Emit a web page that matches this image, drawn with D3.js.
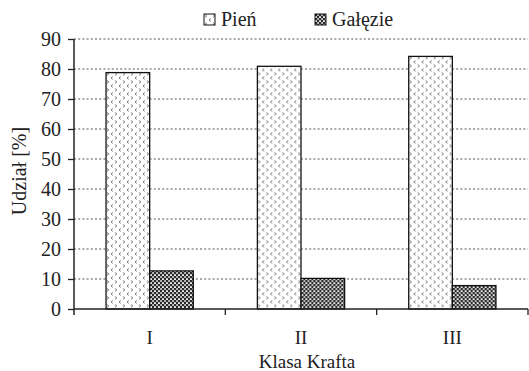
<!DOCTYPE html>
<html>
<head>
<meta charset="utf-8">
<script src="https://cdn.jsdelivr.net/npm/d3@7/dist/d3.min.js"></script>
<style>
  html, body { margin: 0; padding: 0; background: #fff; }
  svg { display: block; }
  text { font-family: "Liberation Serif", "DejaVu Serif", serif; fill: #222; }
</style>
</head>
<body>
<svg id="chart" width="529" height="371"></svg>
<script>
// Udział pnia i gałęzi w biomasie wg klas Krafta
const categories = ["I", "II", "III"];
const seriesNames = ["Pień", "Gałęzie"];
const pien = [78.8, 80.9, 84.2];
const galezie = [12.7, 10.2, 7.8];
const yTicks = [0, 10, 20, 30, 40, 50, 60, 70, 80, 90];

const seriesValues = [pien, galezie];
const svg = d3.select("#chart");
const FS = 20;

// Wypełnienia wzorami
const defs = svg.append("defs");
const pA = defs.append("pattern")
  .attr("id", "patPien").attr("patternUnits", "userSpaceOnUse")
  .attr("width", 8).attr("height", 8);
pA.append("rect").attr("width", 8).attr("height", 8).attr("fill", "#fff");
pA.append("path").attr("d", "M1,0.5 L2.8,1.9 L1,3.3").attr("fill", "none").attr("stroke", "#777").attr("stroke-width", 1);
pA.append("path").attr("d", "M6.8,4.5 L5,5.9 L6.8,7.3").attr("fill", "none").attr("stroke", "#777").attr("stroke-width", 1);

const pB = defs.append("pattern")
  .attr("id", "patGal").attr("patternUnits", "userSpaceOnUse")
  .attr("width", 4).attr("height", 4);
pB.append("rect").attr("width", 4).attr("height", 4).attr("fill", "#e8e8e8");
pB.append("rect").attr("x", 0).attr("y", 0).attr("width", 2.2).attr("height", 2.2).attr("fill", "#2a2a2a");
pB.append("rect").attr("x", 2).attr("y", 2).attr("width", 2.2).attr("height", 2.2).attr("fill", "#2a2a2a");
pB.append("rect").attr("x", 2.4).attr("y", 0.4).attr("width", 1.2).attr("height", 1.2).attr("fill", "#777");
const fills = ["url(#patPien)", "url(#patGal)"];

// Skale
const x = d3.scaleBand().domain(categories).range([74, 528]).paddingInner(0).paddingOuter(0);
const xs = d3.scaleBand().domain(seriesNames).range([0, x.bandwidth()])
  .paddingInner(0).paddingOuter(0.735);
const y = d3.scaleLinear().domain([0, 90]).range([309, 39]);

// Linie siatki
svg.append("g").selectAll("line")
  .data(yTicks.filter(d => d > 0))
  .join("line")
  .attr("x1", 74).attr("x2", 528)
  .attr("y1", d => y(d)).attr("y2", d => y(d))
  .attr("stroke", "#555").attr("stroke-width", 1.2)
  .attr("stroke-dasharray", "2,2.2");

// Słupki
const groups = svg.append("g").selectAll("g")
  .data(categories)
  .join("g")
  .attr("transform", d => `translate(${x(d)},0)`);
groups.selectAll("rect")
  .data((c, i) => seriesNames.map((s, k) => ({ s, k, v: seriesValues[k][i] })))
  .join("rect")
  .attr("x", d => xs(d.s))
  .attr("y", d => y(d.v))
  .attr("width", xs.bandwidth())
  .attr("height", d => y(0) - y(d.v))
  .attr("fill", d => fills[d.k])
  .attr("stroke", "#111").attr("stroke-width", 1.3);

// Oś Y
const yAxis = d3.axisLeft(y).tickValues(yTicks).tickSize(6).tickPadding(7);
const gy = svg.append("g").attr("transform", "translate(74,0)").call(yAxis);
gy.select(".domain").attr("stroke", "#222").attr("stroke-width", 1.5).attr("d", "M0,39V315");
gy.selectAll(".tick line").attr("stroke", "#222").attr("stroke-width", 1.3);
gy.selectAll(".tick text").attr("font-size", FS).attr("font-family", "Liberation Serif, serif").attr("fill", "#222");

// Oś X
const gx = svg.append("g").attr("transform", "translate(0,309)");
gx.append("line").attr("x1", 74).attr("x2", 528).attr("y1", 0).attr("y2", 0)
  .attr("stroke", "#222").attr("stroke-width", 1.5);
const bounds = categories.map(c => x(c)).concat([x(categories[categories.length - 1]) + x.bandwidth()]);
gx.selectAll("line.tk").data(bounds.slice(1)).join("line").attr("class", "tk")
  .attr("x1", d => d).attr("x2", d => d).attr("y1", 0).attr("y2", 6)
  .attr("stroke", "#222").attr("stroke-width", 1.3);
gx.selectAll("text").data(categories).join("text")
  .attr("x", d => x(d) + x.bandwidth() / 2).attr("y", 35)
  .attr("text-anchor", "middle").attr("font-size", 19).text(d => d);

// Tytuły osi
svg.append("text").attr("x", 307).attr("y", 368).attr("text-anchor", "middle")
  .attr("font-size", 19).text("Klasa Krafta");
svg.append("text").attr("transform", "translate(26,171) rotate(-90)")
  .attr("text-anchor", "middle").attr("font-size", FS).text("Udział [%]");

// Legenda
const legendX = [204, 315];
const lg = svg.append("g").selectAll("g").data(seriesNames).join("g")
  .attr("transform", (d, i) => `translate(${legendX[i]},14)`);
lg.append("rect").attr("width", 11).attr("height", 11)
  .attr("fill", (d, i) => fills[i]).attr("stroke", "#111").attr("stroke-width", 1);
lg.append("text").attr("x", 17).attr("y", 12).attr("font-size", FS).text(d => d);
</script>
</body>
</html>
